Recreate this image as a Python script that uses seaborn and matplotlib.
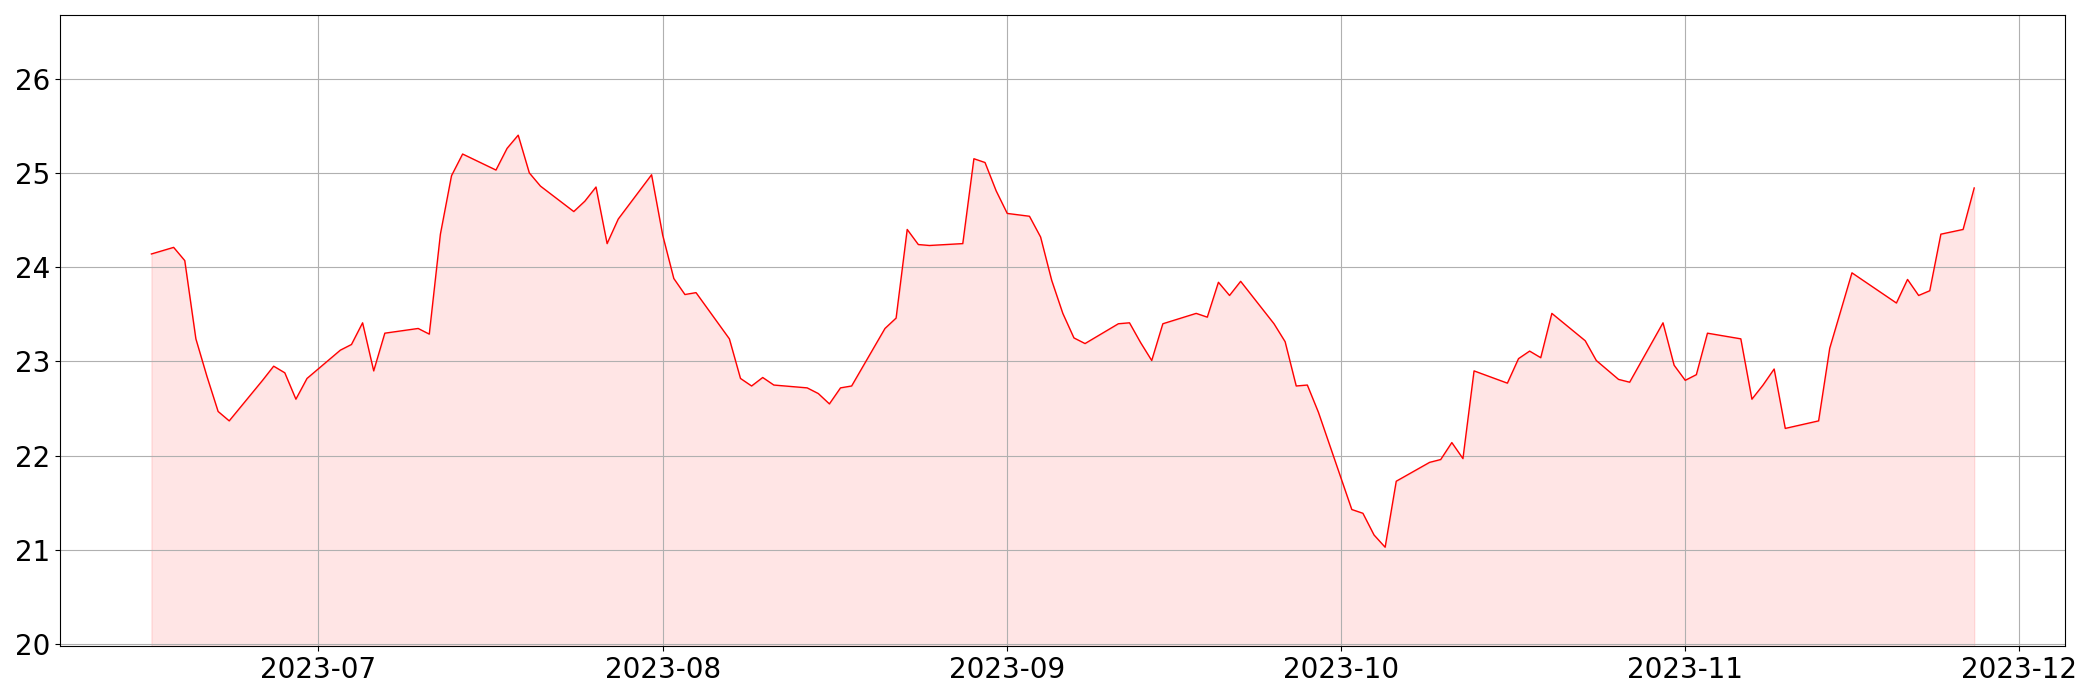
import matplotlib
matplotlib.use("Agg")
import matplotlib.pyplot as plt
import matplotlib.dates as mdates
import numpy as np
import pandas as pd
import seaborn as sns

# daily closes
dates = [
    "2023-06-16", "2023-06-18", "2023-06-19", "2023-06-20", "2023-06-21", "2023-06-22", "2023-06-23",
    "2023-06-26", "2023-06-27", "2023-06-28", "2023-06-29", "2023-06-30",
    "2023-07-03", "2023-07-04", "2023-07-05", "2023-07-06", "2023-07-07",
    "2023-07-10", "2023-07-11", "2023-07-12", "2023-07-13", "2023-07-14",
    "2023-07-17", "2023-07-18", "2023-07-19", "2023-07-20", "2023-07-21",
    "2023-07-24", "2023-07-25", "2023-07-26", "2023-07-27", "2023-07-28",
    "2023-07-31", "2023-08-01", "2023-08-02", "2023-08-03", "2023-08-04",
    "2023-08-07", "2023-08-08", "2023-08-09", "2023-08-10", "2023-08-11",
    "2023-08-14", "2023-08-15", "2023-08-16", "2023-08-17", "2023-08-18",
    "2023-08-21", "2023-08-22", "2023-08-23", "2023-08-24", "2023-08-25",
    "2023-08-28", "2023-08-29", "2023-08-30", "2023-08-31", "2023-09-01",
    "2023-09-03", "2023-09-04", "2023-09-05", "2023-09-06", "2023-09-07", "2023-09-08",
    "2023-09-11", "2023-09-12", "2023-09-13", "2023-09-14", "2023-09-15",
    "2023-09-18", "2023-09-19", "2023-09-20", "2023-09-21", "2023-09-22",
    "2023-09-25", "2023-09-26", "2023-09-27", "2023-09-28", "2023-09-29",
    "2023-10-02", "2023-10-03", "2023-10-04", "2023-10-05", "2023-10-06",
    "2023-10-09", "2023-10-10", "2023-10-11", "2023-10-12", "2023-10-13",
    "2023-10-16", "2023-10-17", "2023-10-18", "2023-10-19", "2023-10-20",
    "2023-10-23", "2023-10-24", "2023-10-26", "2023-10-27",
    "2023-10-30", "2023-10-31", "2023-11-01", "2023-11-02", "2023-11-03",
    "2023-11-06", "2023-11-07", "2023-11-08", "2023-11-09", "2023-11-10",
    "2023-11-13", "2023-11-14", "2023-11-16",
    "2023-11-20", "2023-11-21", "2023-11-22", "2023-11-23", "2023-11-24",
    "2023-11-26", "2023-11-27",
]
prices = [
    24.14, 24.21, 24.07, 23.24, 22.84, 22.47, 22.37,
    22.80, 22.95, 22.88, 22.60, 22.82,
    23.12, 23.18, 23.41, 22.90, 23.30,
    23.35, 23.29, 24.35, 24.97, 25.20,
    25.03, 25.26, 25.40, 25.00, 24.86,
    24.59, 24.70, 24.85, 24.25, 24.51,
    24.98, 24.34, 23.88, 23.71, 23.73,
    23.24, 22.82, 22.74, 22.83, 22.75,
    22.72, 22.66, 22.55, 22.72, 22.74,
    23.35, 23.46, 24.40, 24.24, 24.23,
    24.25, 25.15, 25.11, 24.81, 24.57,
    24.54, 24.32, 23.86, 23.51, 23.25, 23.19,
    23.40, 23.41, 23.20, 23.01, 23.40,
    23.51, 23.47, 23.84, 23.70, 23.85,
    23.40, 23.21, 22.74, 22.75, 22.46,
    21.43, 21.39, 21.16, 21.03, 21.73,
    21.93, 21.96, 22.14, 21.97, 22.90,
    22.77, 23.03, 23.11, 23.04, 23.51,
    23.22, 23.01, 22.81, 22.78,
    23.41, 22.96, 22.80, 22.86, 23.30,
    23.24, 22.60, 22.75, 22.92, 22.29,
    22.37, 23.14, 23.94,
    23.62, 23.87, 23.70, 23.75, 24.35,
    24.40, 24.84,
]

df = pd.DataFrame({"date": pd.to_datetime(dates), "price": prices})

lo = df["price"].min() * 0.95
hi = df["price"].max() * 1.05

fig, ax = plt.subplots(figsize=(21, 7), dpi=100)
fig.subplots_adjust(left=0.0287, right=0.9835, top=0.978, bottom=0.0766)

sns.lineplot(data=df, x="date", y="price", color="red", linewidth=1, ax=ax)
ax.fill_between(df["date"], df["price"], lo, color="red", alpha=0.1)

ax.set_ylim(lo, hi)
ax.set_yticks(np.arange(20, 27, 1))
ax.xaxis.set_major_locator(mdates.MonthLocator())
ax.xaxis.set_major_formatter(mdates.DateFormatter("%Y-%m"))
ax.tick_params(labelsize=20)
ax.set_xlabel("")
ax.set_ylabel("")
ax.grid(True)

fig.savefig("out.png", dpi=100)
